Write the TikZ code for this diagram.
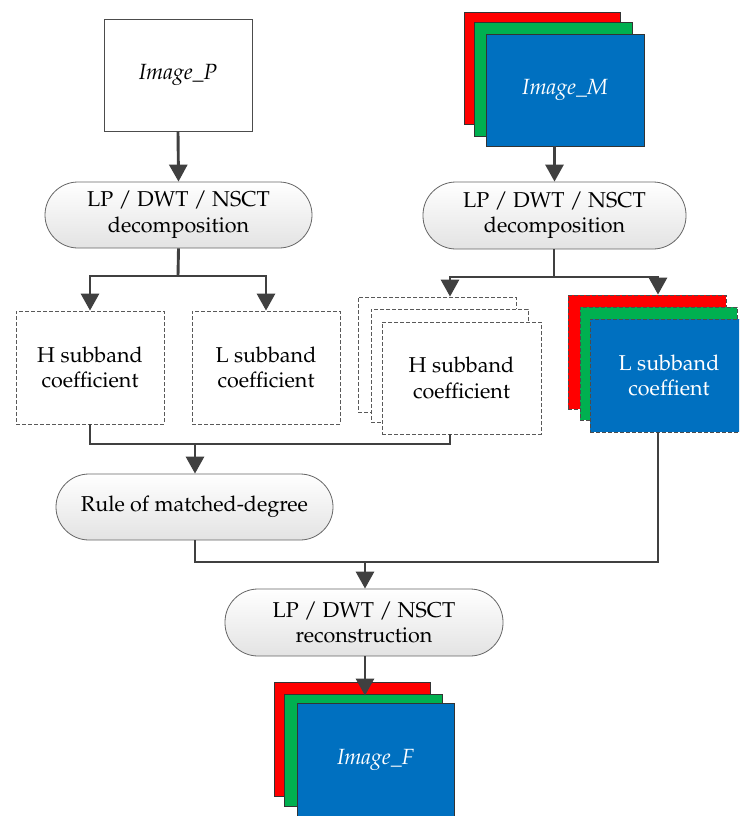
\documentclass[tikz,border=0pt]{standalone}
\usepackage[T1]{fontenc}
\usepackage{mathpazo}
\usetikzlibrary{arrows.meta}
\definecolor{lred}{HTML}{FF0000}
\definecolor{lgreen}{HTML}{00B050}
\definecolor{lblue}{HTML}{0070C0}
\definecolor{wire}{HTML}{404040}
\tikzset{
  txt/.style={font=\fontsize{21.5}{25.5}\selectfont, align=center, inner sep=0pt},
  ital/.style={font=\fontsize{22}{26}\selectfont\itshape},
  proc/.style={txt, draw=black!60, line width=0.8pt, rounded corners=33pt,
    top color=white, bottom color=black!11},
  dbox/.style={txt, draw=black!65, dash pattern=on 4pt off 2pt, line width=0.8pt, fill=white},
  plain/.style={txt, draw=black!70, line width=0.8pt, fill=white},
  layer/.style={txt, draw=black!80, line width=0.8pt, text=white},
  dlayer/.style={layer, dash pattern=on 4pt off 2pt, draw=black!70},
  flow/.style={draw=wire, line width=2.9pt},
  arr/.style={flow, -{Triangle[length=17pt,width=18pt]}},
}
\begin{document}
\begin{tikzpicture}[x=1pt,y=-1pt]
\clip (0,0) rectangle (739,816);
\fill[white] (0,0) rectangle (739,816);

% source images
\node[plain, ital, minimum width=148pt, minimum height=112pt] (imgP) at (178,75) {Image\_P};
\node[layer, fill=lred,   minimum width=156pt, minimum height=112pt] (Mr) at (542,68) {};
\node[layer, fill=lgreen, minimum width=158pt, minimum height=114pt] (Mg) at (553,79) {};
\node[layer, ital, fill=lblue,  minimum width=158pt, minimum height=112pt] (Mb) at (565,90) {Image\_M};

% decompositions
\node[proc, minimum width=267pt, minimum height=66pt] (decL) at (178.5,215) {LP / DWT / NSCT\\decomposition};
\node[proc, minimum width=263pt, minimum height=67pt] (decR) at (554.5,215.5) {LP / DWT / NSCT\\decomposition};

% subband coefficients of Image_P
\node[dbox, minimum width=148pt, minimum height=113pt] (Hl) at (90,367.5) {H subband\\coefficient};
\node[dbox, minimum width=148pt, minimum height=113pt] (Ll) at (266,367.5) {L subband\\coefficient};

% subband coefficients of Image_M
\node[dbox, minimum width=158pt, minimum height=115pt] (Hb) at (437,354.5) {};
\node[dbox, minimum width=157pt, minimum height=113pt] (Hm) at (449.5,365.5) {};
\node[dbox, minimum width=159pt, minimum height=112pt] (Hf) at (461.5,378) {H subband\\coefficient};
\node[dlayer, fill=lred,   minimum width=158pt, minimum height=114pt] (Lr) at (647,352) {};
\node[dlayer, fill=lgreen, minimum width=157pt, minimum height=113pt] (Lg) at (658.5,363.5) {};
\node[dlayer, fill=lblue,  minimum width=158pt, minimum height=113pt] (Lb) at (669,375.5) {L subband\\coeffient};

% fusion rule and reconstruction
\node[proc, minimum width=277pt, minimum height=66pt] (rule) at (194.5,507) {Rule of matched-degree};
\node[proc, minimum width=278pt, minimum height=67pt] (rec) at (364,622.5) {LP / DWT / NSCT\\reconstruction};

% fused image
\node[layer, fill=lred,   minimum width=156pt, minimum height=114pt] (Fr) at (352,739) {};
\node[layer, fill=lgreen, minimum width=158pt, minimum height=112pt] (Fg) at (363,750) {};
\node[layer, ital, fill=lblue,  minimum width=157pt, minimum height=114pt] (Fb) at (375.5,760) {Image\_F};

% junction points
\coordinate (jL) at (178,276);
\coordinate (jLa) at (90,276);
\coordinate (jLb) at (266,276);
\coordinate (jR) at (554,277);
\coordinate (jRa) at (450,277);
\coordinate (jRb) at (658,277);
\coordinate (jH1) at (90,444);
\coordinate (jH2) at (450,444);
\coordinate (jH) at (195,444);
\coordinate (jF1) at (195,562);
\coordinate (jF2) at (658,562);
\coordinate (jF) at (365,562);

% connectors
\draw[arr] (imgP.south) -- (decL.north);
\draw[arr] (Mb.south -| decR.north) -- (decR.north);

\draw[flow] (decL.south) -- (jL);
\draw[flow, line cap=rect] (jLa) -- (jLb);
\draw[arr] (jLa) -- (jLa |- Hl.north);
\draw[arr] (jLb) -- (jLb |- Ll.north);

\draw[flow] (decR.south -| jR) -- (jR);
\draw[flow, line cap=rect] (jRa) -- (jRb);
\draw[arr] (jRa) -- (jRa |- Hb.north);
\draw[arr] (jRb) -- (jRb |- Lr.north);

\draw[flow, line join=miter] (Hl.south) -- (jH1) -- (jH2) -- (jH2 |- Hf.south);
\draw[arr] (jH) -- (jH |- rule.north);

\draw[flow, line join=miter] (rule.south -| jF1) -- (jF1) -- (jF2) -- (jF2 |- Lb.south);
\draw[arr] (jF) -- (jF |- rec.north);

\draw[arr] (rec.south -| jF) -- ([yshift=-2pt]jF |- Fg.north);
\end{tikzpicture}
\end{document}
